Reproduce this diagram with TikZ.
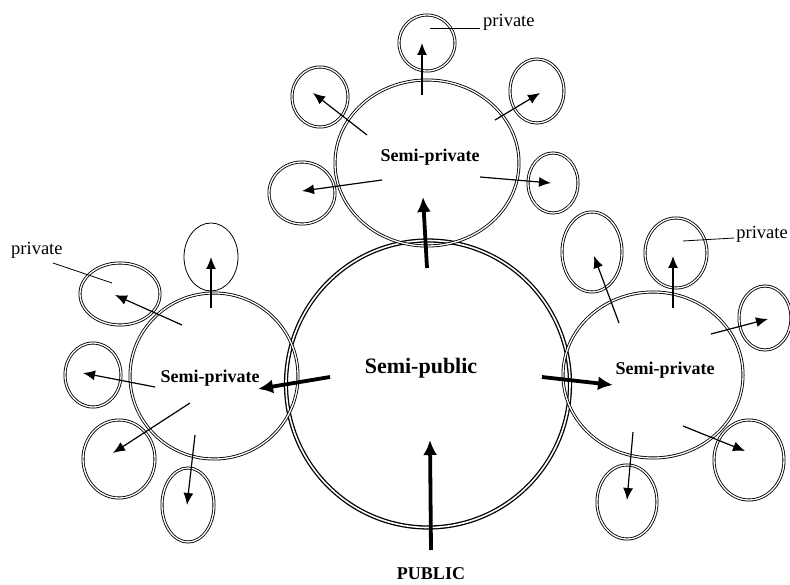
\documentclass[tikz,border=0pt]{standalone}
\usepackage{fontspec}
\setmainfont{Liberation Serif}
\usetikzlibrary{shapes.geometric,arrows.meta}
\begin{document}
\begin{tikzpicture}[x=1pt,y=-1pt,
  ring/.style={ellipse,draw,double,double distance=1.3pt,line width=0.85pt,inner sep=0pt},
  bigring/.style={ring,line width=1.3pt,double distance=1.6pt},
  arr/.style={line width=1.2pt,-{Latex[length=12pt,width=10pt]}},
  bigarr/.style={line width=3.8pt,-{Latex[length=15pt,width=14pt]}},
  lab/.style={font=\fontsize{18}{18}\selectfont\bfseries},
  biglab/.style={font=\fontsize{22}{22}\selectfont\bfseries},
  plab/.style={font=\fontsize{18.5}{18.5}\selectfont,inner sep=1pt},
  leader/.style={line width=0.8pt}]
\useasboundingbox (0,0) rectangle (790,585);
% main circles
\node[bigring,minimum width=284pt,minimum height=287pt] (main) at (428,384) {};
\node[ring,minimum width=184pt,minimum height=166pt] (top) at (427,163) {};
\node[ring,minimum width=168pt,minimum height=166pt] (left) at (214,376) {};
\node[ring,minimum width=180pt,minimum height=166pt] (right) at (653,375) {};
% top privates
\node[ring,minimum width=56pt,minimum height=56pt] (t1) at (427,43) {};
\node[ring,minimum width=56pt,minimum height=60pt] (t2) at (320,97) {};
\node[ring,minimum width=54pt,minimum height=64pt] (t3) at (537,91) {};
\node[ring,minimum width=66pt,minimum height=62pt] (t4) at (302,193) {};
\node[ring,minimum width=50pt,minimum height=60pt] (t5) at (553,183) {};
% left privates
\node[ring,minimum width=80pt,minimum height=62pt] (l1) at (120,294) {};
\node[draw,ellipse,line width=0.8pt,inner sep=0pt,minimum width=54pt,minimum height=68pt] (l2) at (211,257) {};
\node[ring,minimum width=56pt,minimum height=64pt] (l3) at (93,375) {};
\node[ring,minimum width=72pt,minimum height=78pt] (l4) at (119,459) {};
\node[ring,minimum width=52pt,minimum height=74pt] (l5) at (188,505) {};
% right privates
\node[ring,minimum width=60pt,minimum height=80pt] (r1) at (592,252) {};
\node[ring,minimum width=62pt,minimum height=70pt] (r2) at (676,253) {};
\node[ring,minimum width=52pt,minimum height=64pt] (r3) at (765,318) {};
\node[ring,minimum width=70pt,minimum height=80pt] (r4) at (749,460) {};
\node[ring,minimum width=60pt,minimum height=74pt] (r5) at (627,502) {};
% labels
\node[biglab] (tmain) at (421,368) {Semi-public};
\node[lab] (ttop) at (430,157) {Semi-private};
\node[lab] (tleft) at (210,378) {Semi-private};
\node[lab] (tright) at (665,370) {Semi-private};
\node[lab] (pub) at (431,574) {PUBLIC};
\node[plab,anchor=west] (pt) at (482,22) {private};
\node[plab,anchor=west] (pl) at (10,250) {private};
\node[plab,anchor=east] (pr) at (789,234) {private};
% leader lines
\coordinate (pt1) at (430,28);
\coordinate (pl1) at (112,283);
\coordinate (pr1) at (683,241);
\draw[leader] (pt.west) ++(-2,6) -- (pt1);
\draw[leader] (53,263) -- (pl1);
\draw[leader] (pr.west) ++(-1,4) -- (pr1);
% main arrows
\coordinate (m0) at (431,550);
\coordinate (m0e) at (430,440);
\coordinate (m1) at (427,268);
\coordinate (m1e) at (423,197);
\coordinate (m2) at (330,377);
\coordinate (m2e) at (258,389);
\coordinate (m3) at (542,377);
\coordinate (m3e) at (613,385);
\draw[bigarr] (m0) -- (m0e);
\draw[bigarr] (m1) -- (m1e);
\draw[bigarr] (m2) -- (m2e);
\draw[bigarr] (m3) -- (m3e);
% top arrows
\coordinate (ta1) at (422,95);  \coordinate (ta1e) at (422,43);
\coordinate (ta2) at (367,135); \coordinate (ta2e) at (313,93);
\coordinate (ta3) at (495,120); \coordinate (ta3e) at (540,93);
\coordinate (ta4) at (382,180); \coordinate (ta4e) at (302,191);
\coordinate (ta5) at (480,177); \coordinate (ta5e) at (551,183);
\draw[arr] (ta1) -- (ta1e);
\draw[arr] (ta2) -- (ta2e);
\draw[arr] (ta3) -- (ta3e);
\draw[arr] (ta4) -- (ta4e);
\draw[arr] (ta5) -- (ta5e);
% left arrows
\coordinate (la1) at (182,325); \coordinate (la1e) at (115,295);
\coordinate (la2) at (211,308); \coordinate (la2e) at (211,257);
\coordinate (la3) at (155,387); \coordinate (la3e) at (83,373);
\coordinate (la4) at (190,403); \coordinate (la4e) at (113,453);
\coordinate (la5) at (195,435); \coordinate (la5e) at (187,505);
\draw[arr] (la1) -- (la1e);
\draw[arr] (la2) -- (la2e);
\draw[arr] (la3) -- (la3e);
\draw[arr] (la4) -- (la4e);
\draw[arr] (la5) -- (la5e);
% right arrows
\coordinate (ra1) at (619,323); \coordinate (ra1e) at (594,256);
\coordinate (ra2) at (673,308); \coordinate (ra2e) at (673,256);
\coordinate (ra3) at (711,334); \coordinate (ra3e) at (768,319);
\coordinate (ra4) at (683,426); \coordinate (ra4e) at (745,451);
\coordinate (ra5) at (633,432); \coordinate (ra5e) at (627,500);
\draw[arr] (ra1) -- (ra1e);
\draw[arr] (ra2) -- (ra2e);
\draw[arr] (ra3) -- (ra3e);
\draw[arr] (ra4) -- (ra4e);
\draw[arr] (ra5) -- (ra5e);
\end{tikzpicture}
\end{document}
